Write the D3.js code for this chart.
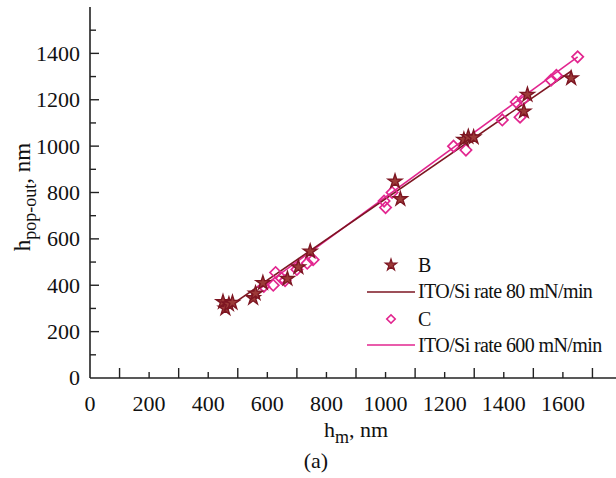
<!DOCTYPE html>
<html><head><meta charset="utf-8">
<script src="https://cdn.jsdelivr.net/npm/d3@7"></script>
<style>body{margin:0;background:#fff}svg{display:block}text{font-family:"Liberation Serif","Times New Roman",serif;fill:#111}</style>
</head><body><svg id="c" width="616" height="478"></svg>
<script>
// Data
const bX = [450,458,470,482,552,560,585,668,705,745,1032,1050,1265,1280,1298,1468,1480,1628];
const bY = [328,300,318,325,345,365,410,428,478,546,848,772,1028,1040,1038,1150,1222,1293];
const cX = [588,620,628,648,660,700,735,755,995,1000,1022,1230,1272,1395,1442,1455,1465,1560,1578,1650];
const cY = [395,400,455,430,420,468,495,510,763,735,800,1000,983,1113,1190,1125,1200,1285,1305,1385];
const bLineX = [455,1630], bLineY = [295,1325];
const cLineX = [575,1650], cLineY = [385,1385];
const xTicks = [0,200,400,600,800,1000,1200,1400,1600];
const yTicks = [0,200,400,600,800,1000,1200,1400];
const legendLabels = ["B","ITO/Si rate 80 mN/min","C","ITO/Si rate 600 mN/min"];

const colB = "#7d1622", colBFill = "#9c3a38", colC = "#e2268f";
const svg = d3.select("#c");
const x = d3.scaleLinear().domain([0,1800]).range([90,622]);
const y = d3.scaleLinear().domain([0,1600]).range([378,7]);
const axCol = "#222";

svg.append("line").attr("x1",x(0)).attr("x2",616).attr("y1",y(0)).attr("y2",y(0)).attr("stroke",axCol).attr("stroke-width",1.6);
svg.append("line").attr("x1",x(0)).attr("x2",x(0)).attr("y1",y(0)).attr("y2",y(1600)).attr("stroke",axCol).attr("stroke-width",1.6);

d3.range(100,1800,100).forEach(v=>{
  const tall = (v/100)%2===1;
  svg.append("line").attr("x1",x(v)).attr("x2",x(v)).attr("y1",y(0)).attr("y2",y(0)-(tall?10:6)).attr("stroke",axCol).attr("stroke-width",1.4);
});
svg.selectAll(".xl").data(xTicks).enter().append("text")
  .attr("x",d=>x(d)).attr("y",411).attr("text-anchor","middle").attr("font-size",22).text(d=>d);

d3.range(100,1600,100).forEach(v=>{
  const major = (v/100)%2===0;
  svg.append("line").attr("x1",x(0)).attr("x2",x(0)+(major?9:6)).attr("y1",y(v)).attr("y2",y(v)).attr("stroke",axCol).attr("stroke-width",1.4);
});
svg.selectAll(".yl").data(yTicks).enter().append("text")
  .attr("x",80).attr("y",d=>y(d)).attr("dy","0.34em").attr("text-anchor","end").attr("font-size",22).text(d=>d);

const yt = svg.append("text").attr("transform","translate(30,197) rotate(-90)").attr("text-anchor","middle").attr("font-size",23);
yt.append("tspan").text("h");
yt.append("tspan").attr("font-size",18).attr("dy",6).text("pop-out");
yt.append("tspan").attr("dy",-6).text(", nm");
const xt = svg.append("text").attr("x",356).attr("y",437).attr("text-anchor","middle").attr("font-size",22);
xt.append("tspan").text("h");
xt.append("tspan").attr("font-size",18).attr("dy",6).text("m");
xt.append("tspan").attr("dy",-6).text(", nm");
svg.append("text").attr("x",316).attr("y",468).attr("text-anchor","middle").attr("font-size",22).text("(a)");

const line = d3.line().x(d=>x(d[0])).y(d=>y(d[1]));
svg.append("path").datum(d3.zip(cLineX,cLineY)).attr("d",line).attr("fill","none").attr("stroke",colC).attr("stroke-width",1.6);
svg.append("path").datum(d3.zip(bLineX,bLineY)).attr("d",line).attr("fill","none").attr("stroke",colB).attr("stroke-width",1.6);

const star = d3.symbol().type(d3.symbolStar).size(60);
const sq = d3.symbol().type(d3.symbolSquare).size(64);
svg.selectAll(".c").data(d3.zip(cX,cY)).enter().append("path")
  .attr("d",sq).attr("transform",d=>`translate(${x(d[0])},${y(d[1])}) rotate(45)`)
  .attr("fill","none").attr("stroke",colC).attr("stroke-width",1.7);
svg.selectAll(".b").data(d3.zip(bX,bY)).enter().append("path")
  .attr("d",star).attr("transform",d=>`translate(${x(d[0])},${y(d[1])})`)
  .attr("fill",colBFill).attr("stroke",colB).attr("stroke-width",1.4);

const lg = svg.append("g");
lg.append("path").attr("d",d3.symbol().type(d3.symbolStar).size(40)).attr("transform","translate(391,265)")
  .attr("fill",colBFill).attr("stroke",colB).attr("stroke-width",1.2);
lg.append("line").attr("x1",367).attr("x2",415).attr("y1",292).attr("y2",292).attr("stroke",colB).attr("stroke-width",1.6);
lg.append("path").attr("d",d3.symbol().type(d3.symbolSquare).size(36)).attr("transform","translate(391,319) rotate(45)")
  .attr("fill","none").attr("stroke",colC).attr("stroke-width",1.6);
lg.append("line").attr("x1",367).attr("x2",415).attr("y1",345).attr("y2",345).attr("stroke",colC).attr("stroke-width",1.6);
const ly = [272,298,326,352];
legendLabels.forEach((t,i)=>{
  lg.append("text").attr("x",418).attr("y",ly[i]).attr("font-size",20).attr("letter-spacing",-0.6).text(t);
});
</script></body></html>
